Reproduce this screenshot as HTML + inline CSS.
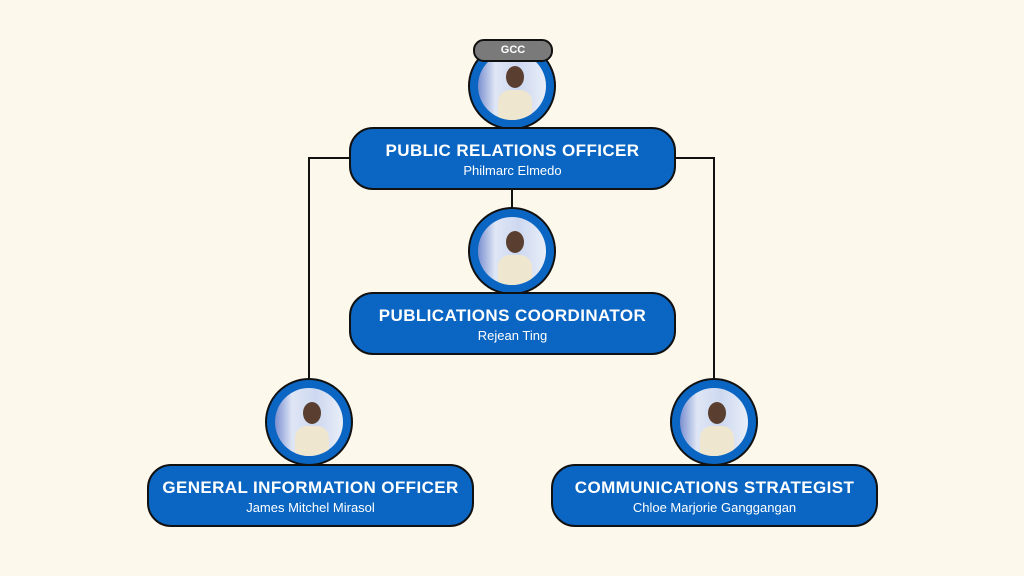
<!DOCTYPE html>
<html><head><style>
body{margin:0;width:1024px;height:576px;background:#fdf8ec;position:relative;overflow:hidden;font-family:"Liberation Sans",sans-serif}
.box{position:absolute;width:327px;height:63px;background:#0a66c2;border:2px solid #111;border-radius:24px;color:#fff;text-align:center;box-sizing:border-box}
.box b{display:block;font-size:17px;margin-top:12px;letter-spacing:0.4px}
.box span{display:block;font-size:13px;margin-top:2px}
.c{position:absolute;width:88px;height:88px;border-radius:50%;background:#0a66c2;border:2px solid #111;box-sizing:border-box}
.c i{position:absolute;left:8px;top:8px;width:68px;height:68px;border-radius:50%;background:linear-gradient(90deg,#7a8fd0 0%,#dfe6f5 25%,#cdd8f0 60%,#e9eef8 100%);overflow:hidden}
.c i:after{content:"";position:absolute;left:20px;top:38px;width:34px;height:36px;background:#efe6cf;border-radius:12px 12px 0 0}
.c i:before{content:"";position:absolute;left:28px;top:14px;width:18px;height:22px;background:#5a3f30;border-radius:50%}
.l{position:absolute;background:#111}
</style></head><body>
<div class="l" style="left:309px;top:157px;width:42px;height:2px"></div>
<div class="l" style="left:308px;top:157px;width:2px;height:224px"></div>
<div class="l" style="left:673px;top:157px;width:42px;height:2px"></div>
<div class="l" style="left:713px;top:157px;width:2px;height:224px"></div>
<div class="l" style="left:511px;top:188px;width:2px;height:22px"></div>

<div class="c" style="left:468px;top:42px"><i></i></div>
<div style="position:absolute;left:473px;top:39px;width:80px;height:23px;background:#7a7a7a;border:2px solid #111;border-radius:11px;box-sizing:border-box;color:#fff;font-weight:bold;font-size:11px;text-align:center;line-height:19px">GCC</div>
<div class="box" style="left:349px;top:127px"><b>PUBLIC RELATIONS OFFICER</b><span>Philmarc Elmedo</span></div>

<div class="c" style="left:468px;top:207px"><i></i></div>
<div class="box" style="left:349px;top:292px"><b>PUBLICATIONS COORDINATOR</b><span>Rejean Ting</span></div>

<div class="c" style="left:265px;top:378px"><i></i></div>
<div class="box" style="left:147px;top:464px"><b>GENERAL INFORMATION OFFICER</b><span>James Mitchel Mirasol</span></div>

<div class="c" style="left:670px;top:378px"><i></i></div>
<div class="box" style="left:551px;top:464px"><b>COMMUNICATIONS STRATEGIST</b><span>Chloe Marjorie Ganggangan</span></div>
</body></html>
